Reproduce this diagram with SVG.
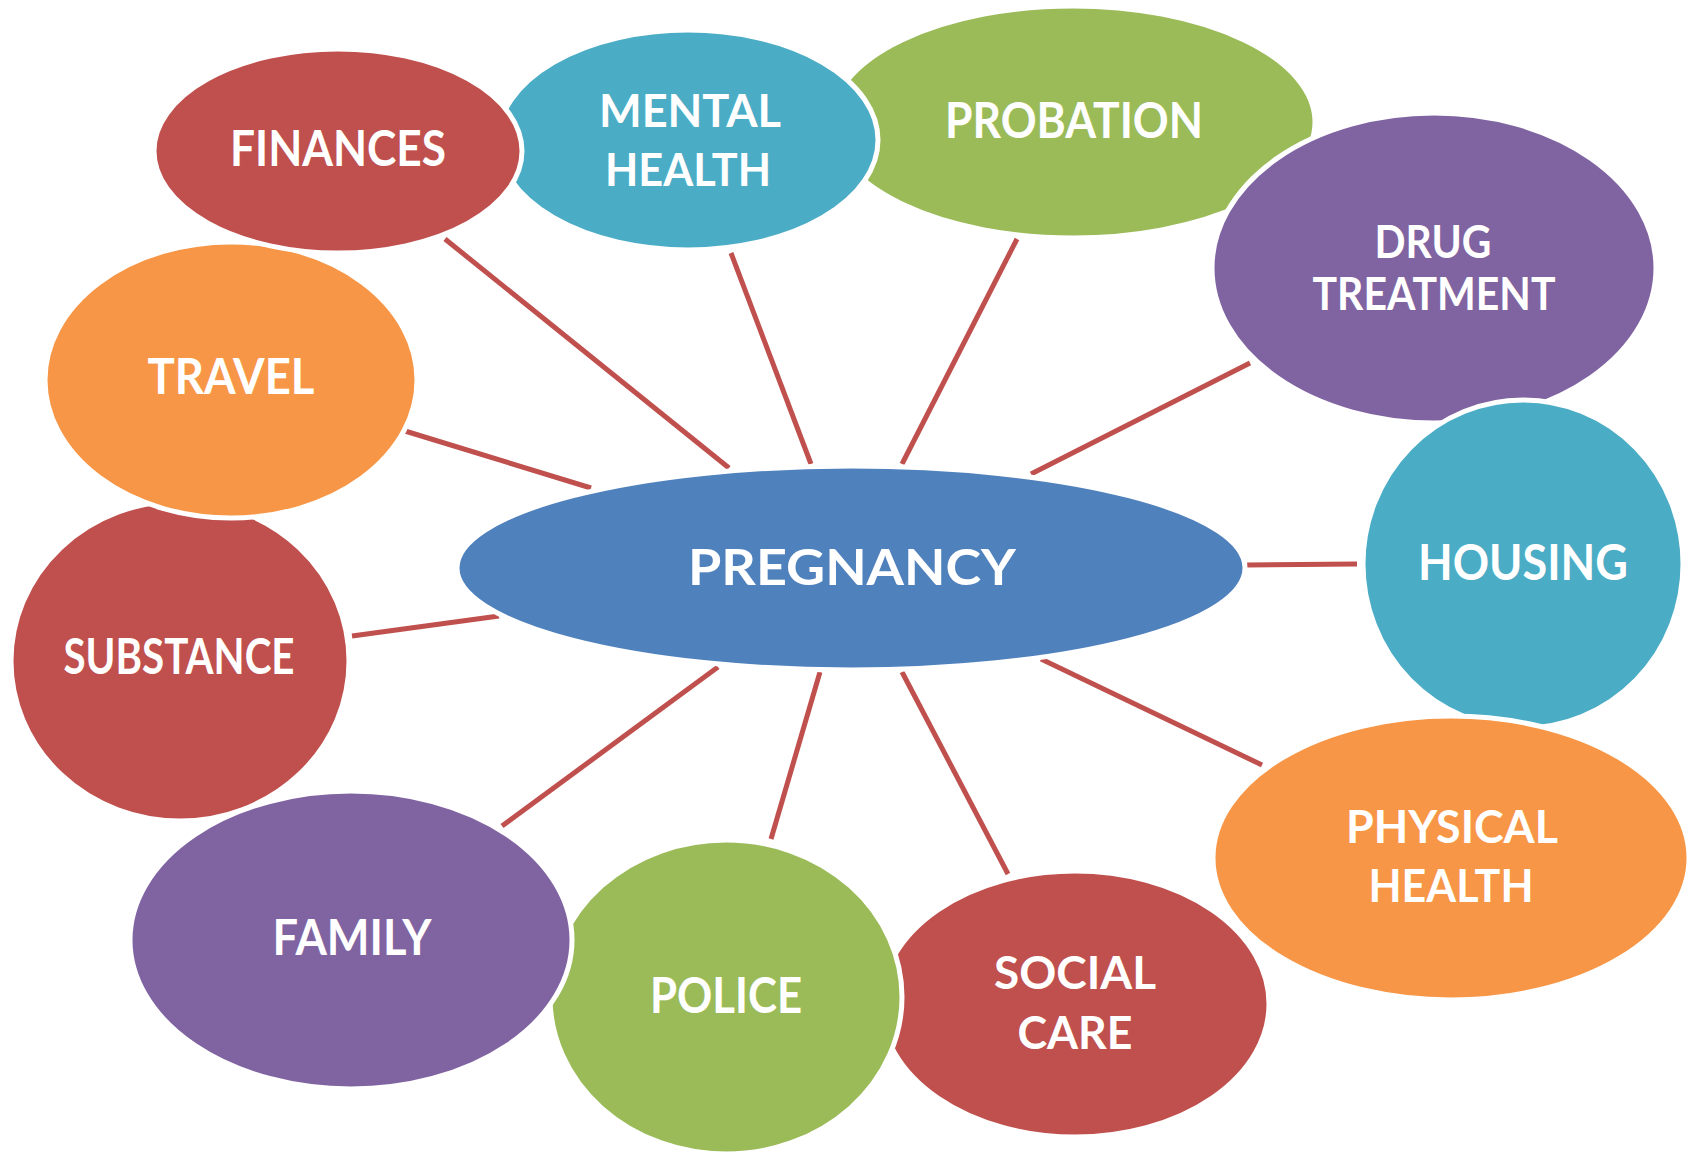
<svg xmlns="http://www.w3.org/2000/svg" width="1700" height="1153" viewBox="0 0 1700 1153">
<style>
.n ellipse{stroke:#fff;stroke-width:5}
.red{fill:#C0504D}.aqua{fill:#4BACC6}.green{fill:#9BBB59}.purple{fill:#8064A2}.orange{fill:#F79646}.blue{fill:#4F81BD}
text{font-family:Lato,"Open Sans","Liberation Sans",sans-serif;font-weight:bold;fill:#fff;font-size:50px;text-anchor:middle}
text.t2{font-size:45px}
.c line{stroke:#C0504D;stroke-width:5}
</style>
<rect width="1700" height="1153" fill="#fff"/>
<g class="c" id="connectors">
<line x1="445" y1="239" x2="729" y2="468"/>
<line x1="731" y1="253" x2="811" y2="464"/>
<line x1="1017" y1="239" x2="902" y2="464"/>
<line x1="1250" y1="363" x2="1031" y2="474"/>
<line x1="1247" y1="565" x2="1357" y2="564"/>
<line x1="1041" y1="659" x2="1262" y2="765"/>
<line x1="902" y1="672" x2="1008" y2="874"/>
<line x1="820" y1="672" x2="771" y2="839"/>
<line x1="718" y1="667" x2="502" y2="826"/>
<line x1="499" y1="616" x2="352" y2="636"/>
<line x1="591" y1="488" x2="405" y2="431"/>
</g>
<g class="n" id="probation"><ellipse class="green" cx="1073" cy="122" rx="242" ry="116"/><text x="1074" y="138" textLength="258" lengthAdjust="spacingAndGlyphs">PROBATION</text></g>
<g class="n" id="drug-treatment"><ellipse class="purple" cx="1434" cy="268" rx="222" ry="155"/><text class="t2" x="1433" y="258" textLength="117" lengthAdjust="spacingAndGlyphs">DRUG</text><text class="t2" x="1434" y="310" textLength="243" lengthAdjust="spacingAndGlyphs">TREATMENT</text></g>
<g class="n" id="housing"><ellipse class="aqua" cx="1523" cy="564" rx="160" ry="164"/><text x="1523" y="580" textLength="210" lengthAdjust="spacingAndGlyphs">HOUSING</text></g>
<g class="n" id="social-care"><ellipse class="red" cx="1075" cy="1004" rx="194" ry="133"/><text class="t2" x="1075" y="989" textLength="162" lengthAdjust="spacingAndGlyphs">SOCIAL</text><text class="t2" x="1075" y="1049" textLength="115" lengthAdjust="spacingAndGlyphs">CARE</text></g>
<g class="n" id="physical-health"><ellipse class="orange" cx="1451" cy="858" rx="238" ry="142"/><text class="t2" x="1452" y="843" textLength="212" lengthAdjust="spacingAndGlyphs">PHYSICAL</text><text class="t2" x="1451" y="902" textLength="165" lengthAdjust="spacingAndGlyphs">HEALTH</text></g>
<g class="n" id="police"><ellipse class="green" cx="726" cy="997" rx="176" ry="157"/><text x="726" y="1013" textLength="152" lengthAdjust="spacingAndGlyphs">POLICE</text></g>
<g class="n" id="substance"><ellipse class="red" cx="180" cy="661" rx="169" ry="160"/><text x="179" y="674" textLength="231" lengthAdjust="spacingAndGlyphs">SUBSTANCE</text></g>
<g class="n" id="family"><ellipse class="purple" cx="351" cy="940" rx="221" ry="149"/><text x="352" y="955" textLength="159" lengthAdjust="spacingAndGlyphs">FAMILY</text></g>
<g class="n" id="travel"><ellipse class="orange" cx="231" cy="380" rx="186" ry="138"/><text x="231" y="394" textLength="167" lengthAdjust="spacingAndGlyphs">TRAVEL</text></g>
<g class="n" id="mental-health"><ellipse class="aqua" cx="688" cy="140" rx="190" ry="110"/><text class="t2" x="690" y="127" textLength="182" lengthAdjust="spacingAndGlyphs">MENTAL</text><text class="t2" x="688" y="186" textLength="166" lengthAdjust="spacingAndGlyphs">HEALTH</text></g>
<g class="n" id="finances"><ellipse class="red" cx="338" cy="151" rx="184" ry="102"/><text x="338" y="166" textLength="216" lengthAdjust="spacingAndGlyphs">FINANCES</text></g>
<g class="n" id="pregnancy"><ellipse class="blue" cx="851" cy="568" rx="394" ry="102"/><text x="852" y="585" font-size="56" textLength="328" lengthAdjust="spacingAndGlyphs">PREGNANCY</text></g>
</svg>
